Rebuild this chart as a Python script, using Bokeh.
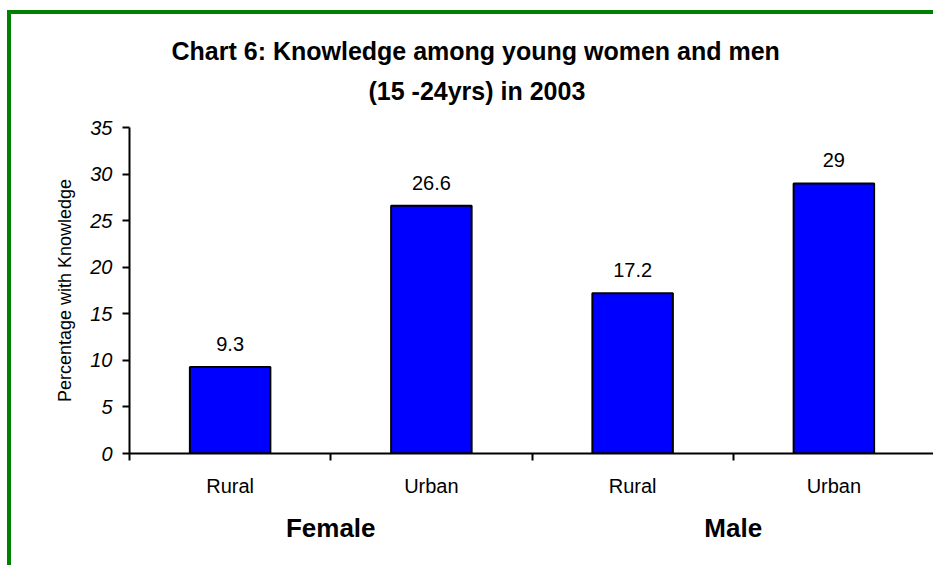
from bokeh.plotting import figure
from bokeh.models import (Range1d, LinearAxis, FixedTicker, ColumnDataSource,
                          LabelSet, Title)
from bokeh.core.properties import value
from bokeh.embed import file_html
from bokeh.resources import INLINE

# ---- data ----
groups = ["Female", "Female", "Male", "Male"]
areas = ["Rural", "Urban", "Rural", "Urban"]
values = [9.3, 26.6, 17.2, 29]
value_labels = ["9.3", "26.6", "17.2", "29"]
y_ticks = [0, 5, 10, 15, 20, 25, 30, 35]
title_lines = ["Chart 6: Knowledge among young women and men",
               "(15 -24yrs) in 2003"]
y_label = "Percentage with Knowledge"

FONT = "Liberation Sans"

n = len(values)
xpos = [i + 0.5 for i in range(n)]            # slot centres
edges = list(range(n + 1))                    # slot boundaries
group_names = list(dict.fromkeys(groups))
group_pos = [sum(x for x, g in zip(xpos, groups) if g == name) /
             groups.count(name) for name in group_names]

source = ColumnDataSource(dict(x=xpos, top=values, label=value_labels))

p = figure(width=926, height=555, title=None,
           x_range=Range1d(0, n),
           y_range=Range1d(y_ticks[0], y_ticks[-1]),
           output_backend="svg", toolbar_location=None,
           x_axis_location=None,
           min_border_left=118, min_border_right=3,
           min_border_top=113, min_border_bottom=116)
p.styles = {"border-top": "4px solid #008000",
            "border-left": "4px solid #008000",
            "margin-top": "10px", "margin-left": "7px"}
p.outline_line_color = None
p.xgrid.grid_line_color = None
p.ygrid.grid_line_color = None
p.background_fill_color = "white"
p.border_fill_color = "white"

p.vbar(x="x", top="top", width=0.4, bottom=0, source=source,
       fill_color="#0000FF", line_color="black", line_width=2)

labels = LabelSet(x="x", y="top", text="label", source=source,
                  text_align="center", text_baseline="alphabetic",
                  y_offset=16, text_font=value(FONT), text_font_size="20px",
                  text_color="black")
p.add_layout(labels)

# y axis
ya = p.yaxis[0]
ya.ticker = FixedTicker(ticks=y_ticks)
ya.major_label_text_font = FONT
ya.major_label_text_font_size = "20px"
ya.major_label_text_font_style = "italic"
ya.major_label_text_color = "black"
ya.major_tick_out = 7
ya.major_tick_in = 0
ya.major_tick_line_width = 2
ya.minor_tick_line_color = None
ya.axis_line_width = 2
ya.axis_line_color = "black"
ya.major_label_standoff = 10
ya.axis_label = y_label
ya.axis_label_text_font = FONT
ya.axis_label_text_font_size = "18px"
ya.axis_label_text_font_style = "normal"
ya.axis_label_text_color = "black"
ya.axis_label_standoff = 12

# x axis 1: axis line, boundary ticks (as minor ticks), category labels
cat_axis = LinearAxis(ticker=FixedTicker(ticks=xpos, minor_ticks=edges),
                      major_label_overrides={x: a for x, a in zip(xpos, areas)},
                      major_tick_line_color=None,
                      minor_tick_out=7, minor_tick_in=0,
                      minor_tick_line_width=2, minor_tick_line_color="black",
                      axis_line_width=2, axis_line_color="black",
                      major_label_text_font=FONT,
                      major_label_text_font_size="20px",
                      major_label_text_color="black",
                      major_label_standoff=14)
p.add_layout(cat_axis, "below")

# x axis 2: group labels
grp_axis = LinearAxis(ticker=FixedTicker(ticks=group_pos),
                      major_label_overrides={x: g for x, g in zip(group_pos, group_names)},
                      major_tick_line_color=None, minor_tick_line_color=None,
                      axis_line_color=None,
                      major_label_text_font=FONT,
                      major_label_text_font_size="26px",
                      major_label_text_font_style="bold",
                      major_label_text_color="black",
                      major_label_standoff=7)
p.add_layout(grp_axis, "below")

# title: two lines, each as its own Title (second line nearest the frame)
title_offsets = [42, 239]      # px from frame's left edge
title_standoffs = [-26, 46]
for line, off, so in reversed(list(zip(title_lines, title_offsets, title_standoffs))):
    p.add_layout(Title(text=line, align="left", offset=off, standoff=so,
                       text_font=FONT, text_font_size="25px",
                       text_font_style="bold", text_color="black"), "above")

open("out.html", "w").write(file_html(p, INLINE))
